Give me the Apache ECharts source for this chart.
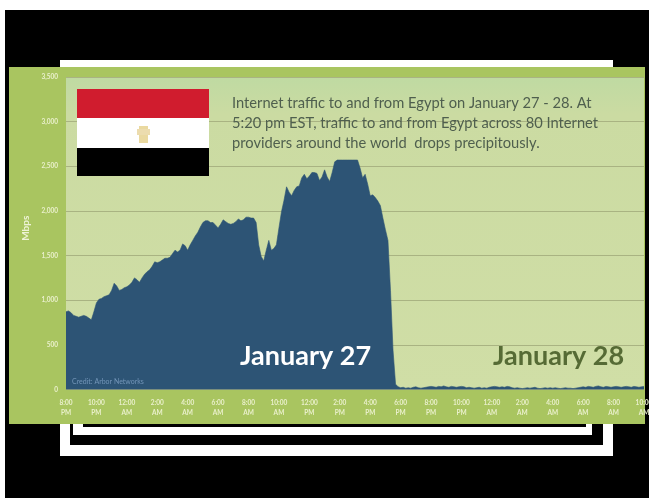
<!DOCTYPE html>
<html>
<head>
<meta charset="utf-8">
<style>html,body{margin:0;padding:0;background:#fff}#chart{width:649px;height:498px}</style>
<script src="https://cdn.jsdelivr.net/npm/echarts@6/dist/echarts.min.js"></script>
</head>
<body>
<div id="chart"></div>
<script>
// Traffic in Mbps, one reading every ten minutes from 8:00 PM on January 26.
const januaryTraffic = [
  870,880,860,830,820,810,820,830,820,800,780,870,970,1010,1020,1040,1050,1060,1110,1190,
  1160,1110,1120,1140,1150,1170,1200,1250,1230,1200,1250,1290,1320,1340,1380,1430,1420,1430,1450,1470,
  1470,1480,1520,1560,1540,1560,1630,1610,1560,1620,1670,1720,1760,1820,1870,1890,1890,1870,1870,1840,
  1810,1850,1900,1880,1860,1850,1860,1880,1910,1890,1900,1930,1930,1920,1920,1870,1620,1490,1440,1560,
  1670,1560,1580,1620,1810,1990,2120,2270,2210,2170,2230,2270,2280,2370,2410,2360,2390,2430,2430,2420,
  2340,2380,2460,2380,2330,2430,2550,2570,2570,2570,2570,2570,2570,2570,2570,2570,2480,2370,2410,2300,
  2170,2180,2150,2110,2060,1920,1790,1670,1110,440,60,30
];
const outageTraffic = [
  20,25,15,20,15,25,30,20,15,20,25,30,35,30,25,35,30,40,30,25,
  35,30,25,30,35,30,20,25,20,15,20,25,15,20,15,25,30,35,30,25,
  30,25,35,30,20,15,20,15,10,15,20,15,20,25,15,10,15,20,15,20,
  15,20,15,10,15,20,15,15,10,15,20,25,30,25,35,30,25,35,40,30,
  25,35,30,25,30,35,30,25,30,35,30,25,35,30,25,30,35
];
const hourLabels = [
  '8:00\nPM','10:00\nPM','12:00\nAM','2:00\nAM','4:00\nAM','6:00\nAM','8:00\nAM','10:00\nAM','12:00\nPM','2:00\nPM',
  '4:00\nPM','6:00\nPM','8:00\nPM','10:00\nPM','12:00\nAM','2:00\nAM','4:00\nAM','6:00\nAM','8:00\nAM','10:00\nAM'
];
const trafficTicks = ['0','500','1,000','1,500','2,000','2,500','3,000','3,500'];
const noteLines = [
  'Internet traffic to and from Egypt on January 27 - 28. At',
  '5:20 pm EST, traffic to and from Egypt across 80 Internet',
  'providers around the world  drops precipitously.'
];

const traffic = januaryTraffic.concat(outageTraffic);
const stepsPerLabel = 12;
const slots = (hourLabels.length - 1) * stepsPerLabel + 1;
const categories = Array.from({length: slots}, (_, i) =>
  i % stepsPerLabel === 0 ? hourLabels[i / stepsPerLabel] : String(i));

const bodyFont = 'Lato, "Open Sans", sans-serif';
const box = (x, y, width, height, fill, z) => ({
  type: 'rect', silent: true, z: z, shape: {x, y, width, height}, style: {fill}
});
const text = (x, y, str, style) => ({
  type: 'text', silent: true, z: 100, x, y,
  style: Object.assign({text: str, fontFamily: bodyFont, verticalAlign: 'middle'}, style)
});

const chart = echarts.init(document.getElementById('chart'), null, {renderer: 'canvas'});
chart.setOption({
  animation: false,
  backgroundColor: '#ffffff',
  grid: {
    show: true, left: 66, right: 5, top: 77, bottom: 108.5, borderWidth: 0,
    outerBoundsMode: 'none',
    backgroundColor: {
      type: 'linear', x: 0, y: 0, x2: 0, y2: 1,
      colorStops: [{offset: 0, color: '#bfdaa2'}, {offset: 0.12, color: '#cbdba2'}, {offset: 1, color: '#d0dea6'}]
    }
  },
  xAxis: {
    type: 'category', data: categories, boundaryGap: false,
    axisLine: {show: false}, axisTick: {show: false}, splitLine: {show: false},
    axisLabel: {
      interval: stepsPerLabel - 1, margin: 8, color: '#eaf0cc', fontSize: 6.5, fontWeight: 'bold',
      lineHeight: 10, fontFamily: bodyFont, hideOverlap: false
    }
  },
  yAxis: {
    type: 'value', min: 0, max: 3500, interval: 500,
    name: 'Mbps', nameLocation: 'middle', nameGap: 34, nameRotate: 90,
    nameTextStyle: {color: '#eef3d6', fontSize: 10, fontWeight: 'bold', fontFamily: bodyFont, padding: [0, 0, 0, 10]},
    axisLine: {show: false}, axisTick: {show: false},
    splitLine: {lineStyle: {color: '#a9b382', width: 1}},
    axisLabel: {
      margin: 8, color: '#eaf0cc', fontSize: 6.5, fontWeight: 'bold', fontFamily: bodyFont,
      formatter: v => trafficTicks[v / 500]
    }
  },
  series: [{
    type: 'line', data: traffic, symbol: 'none', z: 5,
    lineStyle: {width: 0.6, color: '#2d5475'},
    areaStyle: {color: '#2d5475', opacity: 1}
  }],
  graphic: [
    // page backdrop and the slide frames behind the panel
    box(5, 10, 644, 488, '#000000', -30),
    box(60, 60, 553, 396, '#ffffff', -29),
    box(70, 67, 533, 378, '#000000', -28),
    box(73, 67, 519, 368, '#ffffff', -27),
    box(83, 67, 503, 360, '#000000', -26),
    box(9, 67, 636, 357, '#a9c560', -20),
    // flag
    box(77, 89, 132, 29, '#d01c2e', 50),
    box(77, 118, 132, 30, '#ffffff', 50),
    box(77, 148, 132, 28, '#000000', 50),
    box(139, 126, 9, 17, '#ead9a0', 51),
    box(137, 129, 13, 6, '#ecdcae', 51),
    // annotations
    text(232, 103, noteLines[0], {fill: '#4f5f4e', fontSize: 14.7}),
    text(232, 123, noteLines[1], {fill: '#4f5f4e', fontSize: 14.7}),
    text(232, 143, noteLines[2], {fill: '#4f5f4e', fontSize: 14.7}),
    text(240, 356, 'January 27', {fill: '#ffffff', fontSize: 27, fontWeight: 'bold'}),
    text(493, 356, 'January 28', {fill: '#566b35', fontSize: 27, fontWeight: 'bold'}),
    text(72, 382, 'Credit: Arbor Networks', {fill: '#7395b8', fontSize: 7})
  ]
});
</script>
</body>
</html>
